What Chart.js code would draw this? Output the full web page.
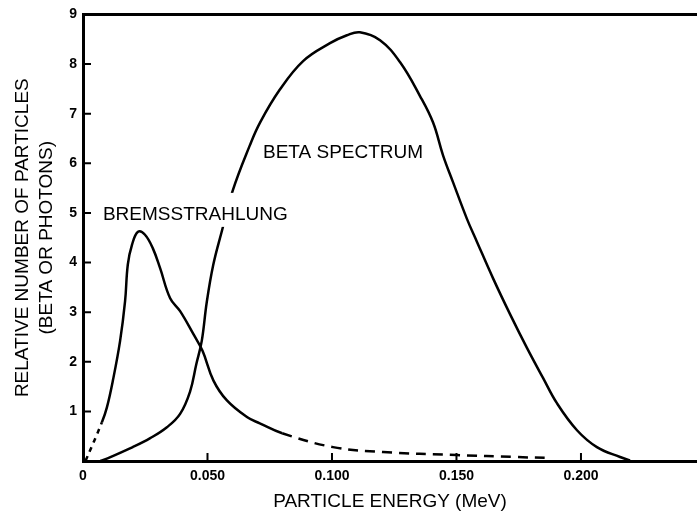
<!DOCTYPE html>
<html>
<head>
<meta charset="utf-8">
<script src="https://cdn.jsdelivr.net/npm/chart.js@4/dist/chart.umd.min.js"></script>
<style>
  body { margin: 0; background: #fff; }
  canvas { display: block; }
</style>
</head>
<body>
<canvas id="myChart" width="697" height="513"></canvas>
<script>
// beta spectrum (energy in MeV, relative number)
var betaEnergy = [0.007, 0.011, 0.020, 0.027, 0.0337, 0.039, 0.043, 0.0455, 0.0477, 0.0497, 0.0523, 0.0557,
    0.0602, 0.067, 0.0711, 0.079, 0.0884, 0.0992, 0.106, 0.1112, 0.1193, 0.1273, 0.1353, 0.1406, 0.1446,
    0.1486, 0.1542, 0.1582, 0.1647, 0.1715, 0.1783, 0.1847, 0.1904, 0.1984, 0.2064, 0.2157, 0.2197];
var betaCount = [0, 0.08, 0.28, 0.46, 0.68, 0.95, 1.4, 1.95, 2.42, 3.2, 3.95, 4.62,
    5.46, 6.36, 6.82, 7.48, 8.06, 8.42, 8.58, 8.64, 8.48, 8.04, 7.36, 6.82, 6.16,
    5.62, 4.88, 4.42, 3.68, 2.96, 2.28, 1.68, 1.16, 0.62, 0.28, 0.08, 0.01];

// bremsstrahlung photons
var bremsEnergy = [0.001, 0.0076, 0.0096, 0.012, 0.0149, 0.0169, 0.018, 0.0197, 0.0221, 0.0249, 0.0281,
    0.031, 0.035, 0.039, 0.0443, 0.048, 0.0524, 0.0578, 0.066, 0.071, 0.080, 0.1004, 0.1205, 0.150, 0.174, 0.188];
var bremsCount = [0, 0.78, 1.08, 1.62, 2.42, 3.22, 3.96, 4.36, 4.62, 4.56, 4.28,
    3.88, 3.28, 3.02, 2.56, 2.22, 1.62, 1.22, 0.88, 0.76, 0.56, 0.28, 0.18, 0.12, 0.08, 0.06];
// the brems curve is solid between these two points, dashed outside
var bremsSolidFrom = 1;
var bremsSolidTo = 20;

var xTicks = [0, 0.05, 0.10, 0.15, 0.20];
var xTickLabels = ['0', '0.050', '0.100', '0.150', '0.200'];
var yTicks = [1, 2, 3, 4, 5, 6, 7, 8, 9];

var notes = [
    { text: 'BREMSSTRAHLUNG', x: 0.008, y: 4.96, blank: true },
    { text: 'BETA SPECTRUM', x: 0.0723, y: 6.22, blank: false }
];

var FONT = '"Liberation Sans", Arial, Helvetica, sans-serif';

var toPoints = function(xs, ys) {
    return xs.map(function(x, i) { return { x: x, y: ys[i] }; });
};

// inward tick marks on both axes
var innerTicks = {
    id: 'innerTicks',
    afterDraw: function(chart) {
        var ctx = chart.ctx, a = chart.chartArea;
        var xs = chart.scales.x, ys = chart.scales.y;
        ctx.save();
        ctx.strokeStyle = '#000';
        ctx.lineWidth = 2;
        ctx.beginPath();
        yTicks.forEach(function(v) {
            var py = ys.getPixelForValue(v);
            ctx.moveTo(a.left, py);
            ctx.lineTo(a.left + 8, py);
        });
        xTicks.forEach(function(v) {
            if (v === 0) return;
            var px = xs.getPixelForValue(v);
            ctx.moveTo(px, a.bottom);
            ctx.lineTo(px, a.bottom - 8);
        });
        ctx.stroke();
        ctx.restore();
    }
};

// curve labels
var curveNotes = {
    id: 'curveNotes',
    afterDatasetsDraw: function(chart) {
        var ctx = chart.ctx;
        var xs = chart.scales.x, ys = chart.scales.y;
        ctx.save();
        ctx.font = '19px ' + FONT;
        ctx.textBaseline = 'middle';
        ctx.textAlign = 'left';
        notes.forEach(function(n) {
            var px = xs.getPixelForValue(n.x);
            var py = ys.getPixelForValue(n.y);
            if (n.blank) {
                var w = ctx.measureText(n.text).width;
                ctx.fillStyle = '#fff';
                ctx.fillRect(px - 4, py - 22, w + 8, 34);
            }
            ctx.fillStyle = '#000';
            ctx.fillText(n.text, px, py);
        });
        ctx.restore();
    }
};

var myChart = new Chart(document.getElementById('myChart'), {
    type: 'line',
    data: {
        datasets: [{
            label: 'Beta spectrum',
            data: toPoints(betaEnergy, betaCount),
            borderColor: '#000',
            borderWidth: 2.5,
            pointRadius: 0,
            tension: 0.4,
            fill: false
        }, {
            label: 'Bremsstrahlung',
            data: toPoints(bremsEnergy, bremsCount),
            borderColor: '#000',
            borderWidth: 2.5,
            pointRadius: 0,
            tension: 0.4,
            fill: false,
            segment: {
                borderDash: function(c) {
                    if (c.p0DataIndex < bremsSolidFrom) return [5, 5];
                    if (c.p0DataIndex >= bremsSolidTo) return [10, 7];
                    return undefined;
                }
            }
        }]
    },
    options: {
        responsive: false,
        animation: false,
        layout: { padding: { top: 11, right: 0, left: 0, bottom: 0 } },
        plugins: {
            legend: { display: false },
            tooltip: { enabled: false }
        },
        scales: {
            x: {
                type: 'linear',
                min: 0,
                max: 0.2466,
                afterFit: function(s) { s.height = 52; },
                afterBuildTicks: function(s) {
                    s.ticks = xTicks.map(function(v) { return { value: v }; });
                },
                grid: { display: true, drawOnChartArea: false, drawTicks: false },
                border: { display: true, color: '#000', width: 3 },
                ticks: {
                    color: '#000',
                    padding: 7,
                    maxRotation: 0,
                    font: { family: FONT, size: 14, weight: 'bold' },
                    callback: function(v) {
                        var i = xTicks.indexOf(v);
                        return i >= 0 ? xTickLabels[i] : '';
                    }
                },
                title: {
                    display: true,
                    text: 'PARTICLE ENERGY (MeV)',
                    color: '#000',
                    padding: { top: 0, bottom: 0 },
                    font: { family: FONT, size: 19 }
                }
            },
            xTop: {
                type: 'linear',
                position: 'top',
                min: 0,
                max: 0.2466,
                afterFit: function(s) { s.height = 0; },
                grid: { display: true, drawOnChartArea: false, drawTicks: false },
                border: { display: true, color: '#000', width: 3 },
                ticks: { display: false }
            },
            y: {
                min: 0,
                max: 9,
                afterFit: function(s) { s.width = 83; },
                afterBuildTicks: function(s) {
                    s.ticks = yTicks.map(function(v) { return { value: v }; });
                },
                grid: { display: true, drawOnChartArea: false, drawTicks: false },
                border: { display: true, color: '#000', width: 3 },
                ticks: {
                    color: '#000',
                    padding: 6,
                    font: { family: FONT, size: 14, weight: 'bold' }
                },
                title: {
                    display: true,
                    text: ['RELATIVE NUMBER OF PARTICLES', '(BETA OR PHOTONS)'],
                    color: '#000',
                    padding: { top: 10, bottom: 0 },
                    font: { family: FONT, size: 19, lineHeight: 1.3 }
                }
            }
        }
    },
    plugins: [innerTicks, curveNotes]
});
</script>
</body>
</html>
